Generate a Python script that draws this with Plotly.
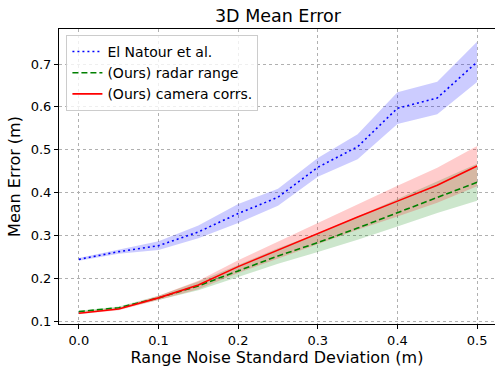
import plotly.graph_objects as go

noise_std = [0.0, 0.05, 0.1, 0.15, 0.2, 0.25, 0.3, 0.35, 0.4, 0.45, 0.5]

natour_mean = [0.244, 0.262, 0.276, 0.308, 0.351, 0.389, 0.459, 0.507, 0.597, 0.621, 0.705]
natour_std = [0.003, 0.005, 0.010, 0.015, 0.022, 0.020, 0.022, 0.029, 0.037, 0.038, 0.047]

radar_mean = [0.122, 0.131, 0.154, 0.182, 0.217, 0.252, 0.283, 0.317, 0.353, 0.389, 0.424]
radar_std = [0.002, 0.003, 0.005, 0.010, 0.014, 0.018, 0.022, 0.027, 0.032, 0.037, 0.043]

camera_mean = [0.118, 0.128, 0.154, 0.184, 0.227, 0.266, 0.304, 0.343, 0.380, 0.417, 0.462]
camera_std = [0.002, 0.003, 0.005, 0.010, 0.015, 0.020, 0.025, 0.030, 0.036, 0.041, 0.047]

x_ticks = [0.0, 0.1, 0.2, 0.3, 0.4, 0.5]
y_ticks = [0.1, 0.2, 0.3, 0.4, 0.5, 0.6, 0.7]

series = [
    ("El Natour et al.", natour_mean, natour_std, "#0000ff", "rgba(0,0,255,0.2)", "2px,3px"),
    ("(Ours) radar range", radar_mean, radar_std, "#008000", "rgba(0,128,0,0.2)", "6px,3px"),
    ("(Ours) camera corrs.", camera_mean, camera_std, "#ff0000", "rgba(255,0,0,0.2)", "solid"),
]

fig = go.Figure()
for name, m, s, col, fcol, dash in series:
    lo = [a - b for a, b in zip(m, s)]
    hi = [a + b for a, b in zip(m, s)]
    fig.add_trace(go.Scatter(x=noise_std, y=lo, mode="lines", line=dict(width=0),
                             showlegend=False, hoverinfo="skip"))
    fig.add_trace(go.Scatter(x=noise_std, y=hi, mode="lines", line=dict(width=0),
                             fill="tonexty", fillcolor=fcol, showlegend=False, hoverinfo="skip"))
for name, m, s, col, fcol, dash in series:
    fig.add_trace(go.Scatter(x=noise_std, y=m, mode="lines", name=name,
                             line=dict(color=col, width=1.6, dash=dash)))

font = "DejaVu Sans, Arial, sans-serif"
fig.update_layout(
    width=495, height=371,
    margin=dict(l=59, r=0, t=29, b=47),
    paper_bgcolor="white", plot_bgcolor="white",
    font=dict(family=font, size=13, color="black"),
    title=dict(text="3D Mean Error", x=(59 + 497) / 2 / 495, xanchor="center",
               y=1 - 16 / 371, yanchor="middle", font=dict(size=17.5)),
    legend=dict(x=0.017, y=0.98, xanchor="left", yanchor="top", traceorder="normal",
                bgcolor="rgba(255,255,255,0.8)", bordercolor="#cccccc", borderwidth=1,
                font=dict(size=14)),
    showlegend=True,
)
fig.update_xaxes(range=[-0.025, 0.5225], tickvals=x_ticks, tickformat=".1f",
                 showline=True, linecolor="black", linewidth=1, mirror=True,
                 ticks="outside", ticklen=4, tickcolor="black",
                 showgrid=True, gridcolor="#b0b0b0", griddash="dot", gridwidth=1,
                 zeroline=False,
                 title=dict(text="Range Noise Standard Deviation (m)", font=dict(size=16), standoff=4))
fig.update_yaxes(range=[0.093, 0.782], tickvals=y_ticks, tickformat=".1f",
                 showline=True, linecolor="black", linewidth=1, mirror=False,
                 ticks="outside", ticklen=4, tickcolor="black",
                 showgrid=True, gridcolor="#b0b0b0", griddash="dot", gridwidth=1,
                 zeroline=False,
                 title=dict(text="Mean Error (m)", font=dict(size=16), standoff=6))

fig.write_html("out.html")
